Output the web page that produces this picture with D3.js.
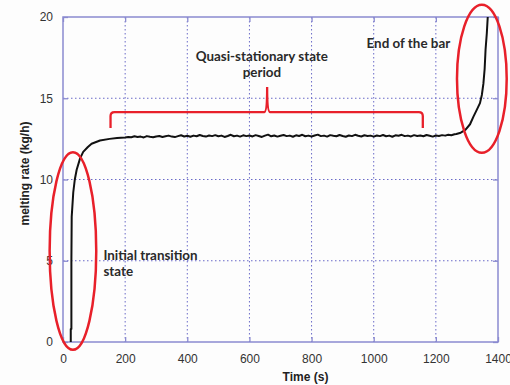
<!DOCTYPE html>
<html>
<head>
<meta charset="utf-8">
<script src="https://cdn.jsdelivr.net/npm/d3@7"></script>
<style>
  body { margin: 0; background: #fdfdfd; }
  svg { display: block; }
  .tick text { font-family: "Liberation Sans", Arial, Helvetica, sans-serif; font-size: 12px; fill: #333; }
  .axtitle { font-family: "Liberation Sans", Arial, Helvetica, sans-serif; font-weight: bold; font-size: 12px; fill: #222; }
  .note { font-family: Lato, "Open Sans", sans-serif; font-weight: bold; font-size: 13.4px; fill: #2a2a2a; }
</style>
</head>
<body>
<svg id="chart" width="510" height="385"></svg>
<script>
// ---- data ----
// start-up part of the curve
let startTime = [25, 25, 27, 27, 28, 33, 38, 44, 55, 65, 80, 92, 119, 150, 174];
let startRate = [0, 0.8, 0.8, 5, 7.7, 9.2, 10, 10.6, 11.3, 11.7, 12.0, 12.2, 12.4, 12.5, 12.55];

// quasi-stationary plateau, one value every 10 s from 200 s to 1260 s
let plateauStart = 200, plateauStep = 10;
let plateauRate = [
  12.58, 12.62, 12.6, 12.66, 12.61, 12.64, 12.59, 12.67, 12.63, 12.6, 12.65,
  12.68, 12.62, 12.66, 12.7, 12.64, 12.61, 12.67, 12.72, 12.65, 12.69,
  12.63, 12.7, 12.66, 12.74, 12.68, 12.64, 12.71, 12.67, 12.73, 12.66,
  12.7, 12.62, 12.68, 12.75, 12.66, 12.7, 12.64, 12.72, 12.67, 12.71,
  12.65, 12.73, 12.68, 12.62, 12.7, 12.76, 12.66, 12.71, 12.64, 12.69,
  12.74, 12.67, 12.7, 12.63, 12.72, 12.68, 12.75, 12.66, 12.7, 12.65,
  12.71, 12.76, 12.67, 12.7, 12.64, 12.73, 12.69, 12.66, 12.74, 12.68,
  12.63, 12.71, 12.67, 12.75, 12.69, 12.65, 12.72, 12.68, 12.7, 12.64,
  12.71, 12.67, 12.74, 12.66, 12.7, 12.63, 12.72, 12.69, 12.75, 12.67,
  12.7, 12.65, 12.73, 12.68, 12.71, 12.66, 12.74, 12.69, 12.64, 12.71,
  12.68, 12.73, 12.7, 12.75, 12.72, 12.78
];

// end of the bar
let endTime = [1266, 1280, 1295, 1310, 1321, 1332, 1342, 1348, 1353, 1357, 1360, 1364, 1367];
let endRate = [12.8, 12.88, 13.05, 13.4, 13.87, 14.3, 14.7, 15.2, 15.9, 16.8, 18, 19, 20];

let xTicks = [0, 200, 400, 600, 800, 1000, 1200, 1400];
let yTicks = [0, 5, 10, 15, 20];

// annotations (data units)
let ellipses = [
  {t: 32, v: 5.6, rt: 75, rv: 6.08},
  {t: 1348, v: 16.2, rt: 80, rv: 4.55}
];
let bracket = {t0: 153, t1: 1158, tMid: 657, vLine: 14.15, vEnd: 13.17, vTip: 15.7};
let notes = [
  {lines: ["Quasi-stationary state", "period"], t: 640, v: 17.3, anchor: "middle"},
  {lines: ["End of the bar"], t: 977, v: 18.1, anchor: "start"},
  {lines: ["Initial transition", "state"], t: 130, v: 5.05, anchor: "start"}
];

// ---- build the series ----
let series = [];
startTime.forEach(function(t, i) { series.push([t, startRate[i]]); });
plateauRate.forEach(function(r, i) { series.push([plateauStart + i * plateauStep, r]); });
endTime.forEach(function(t, i) { series.push([t, endRate[i]]); });

let svg = d3.select("#chart");
let margin = {top: 17, right: 12, bottom: 43, left: 63};
let width = +svg.attr("width") - margin.left - margin.right,
    height = +svg.attr("height") - margin.top - margin.bottom;
let g = svg.append("g").attr("transform", "translate(" + margin.left + "," + margin.top + ")");

let x = d3.scaleLinear().domain([0, 1400]).range([0, width]);
let y = d3.scaleLinear().domain([0, 20]).range([height, 0]);

const frameColor = "#8a8ad0";
const gridColor = "#6a6ac8";

// grid
g.append("g").selectAll("line").data(xTicks.slice(1, -1)).enter().append("line")
  .attr("x1", d => x(d)).attr("x2", d => x(d)).attr("y1", 0).attr("y2", height)
  .attr("stroke", gridColor).attr("stroke-width", 1).attr("stroke-dasharray", "1.5,2.5");
g.append("g").selectAll("line").data(yTicks.slice(1, -1)).enter().append("line")
  .attr("y1", d => y(d)).attr("y2", d => y(d)).attr("x1", 0).attr("x2", width)
  .attr("stroke", gridColor).attr("stroke-width", 1).attr("stroke-dasharray", "1.5,2.5");

// axes
g.append("g").attr("transform", "translate(0," + height + ")")
  .call(d3.axisBottom(x).tickValues(xTicks).tickSize(-5).tickPadding(12).tickFormat(d3.format("d")));
g.append("g")
  .call(d3.axisLeft(y).tickValues(yTicks).tickSize(-5).tickPadding(10).tickFormat(d3.format("d")));
g.append("g").call(d3.axisTop(x).tickValues(xTicks).tickSize(-5).tickFormat(""));
g.append("g").attr("transform", "translate(" + width + ",0)")
  .call(d3.axisRight(y).tickValues(yTicks).tickSize(-5).tickFormat(""));
g.selectAll(".domain").remove();
g.selectAll(".tick text").attr("font-family", null).attr("font-size", null);
g.selectAll(".tick line").attr("stroke", frameColor).attr("stroke-width", 1.3);

g.append("rect").attr("width", width).attr("height", height)
  .attr("fill", "none").attr("stroke", frameColor).attr("stroke-width", 1.5);

// axis titles
g.append("text").attr("class", "axtitle")
  .attr("x", x(700) + 25).attr("y", height + 39)
  .attr("text-anchor", "middle")
  .text("Time (s)");
g.append("text").attr("class", "axtitle")
  .attr("transform", "rotate(-90)")
  .attr("x", -(y(10) - 6)).attr("y", -34)
  .attr("text-anchor", "middle")
  .text("melting rate (kg/h)");

// data line
let line = d3.line().x(d => x(d[0])).y(d => y(d[1]));
g.append("path").datum(series)
  .attr("fill", "none").attr("stroke", "#111").attr("stroke-width", 2)
  .attr("stroke-linejoin", "round")
  .attr("d", line);

// red annotations
g.selectAll(".ell").data(ellipses).enter().append("ellipse")
  .attr("cx", d => x(d.t)).attr("cy", d => y(d.v))
  .attr("rx", d => x(d.rt) - x(0)).attr("ry", d => y(0) - y(d.rv))
  .attr("fill", "none").attr("stroke", "#e8202a").attr("stroke-width", 2.5);

let bx0 = x(bracket.t0), bx1 = x(bracket.t1), bxm = x(bracket.tMid);
let by = y(bracket.vLine), bye = y(bracket.vEnd), byt = y(bracket.vTip);
let r = 4;
let bp = d3.path();
bp.moveTo(bx0, bye);
bp.lineTo(bx0, by + r);
bp.quadraticCurveTo(bx0, by, bx0 + r, by);
bp.lineTo(bxm - 3, by);
bp.quadraticCurveTo(bxm, by, bxm, byt);
bp.quadraticCurveTo(bxm, by, bxm + 3, by);
bp.lineTo(bx1 - r, by);
bp.quadraticCurveTo(bx1, by, bx1, by + r);
bp.lineTo(bx1, bye);
g.append("path").attr("d", bp.toString())
  .attr("fill", "none").attr("stroke", "#e8202a").attr("stroke-width", 2.3);

// notes
notes.forEach(function(n) {
  let t = g.append("text").attr("class", "note")
    .attr("x", x(n.t)).attr("y", y(n.v)).attr("text-anchor", n.anchor);
  n.lines.forEach(function(s, i) {
    t.append("tspan").attr("x", x(n.t)).attr("dy", i === 0 ? 0 : 16.5).text(s);
  });
});
</script>
</body>
</html>
